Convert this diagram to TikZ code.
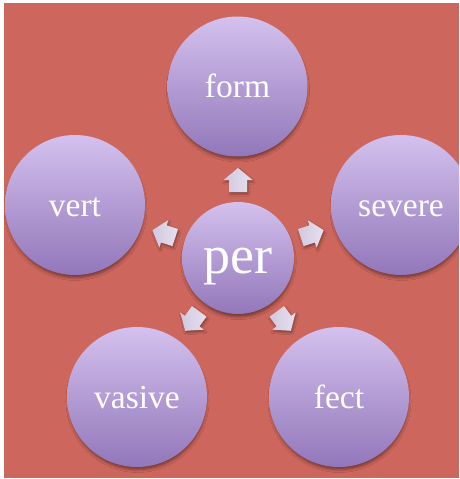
\documentclass[tikz,border=0pt]{standalone}
\usepackage{fontspec}
\setmainfont{Liberation Serif}
\usetikzlibrary{shadows.blur}
\definecolor{bg}{HTML}{CD665C}
\definecolor{ctop}{HTML}{D4C1EE}
\definecolor{cbot}{HTML}{9277BA}
\definecolor{atip}{HTML}{E6E0EF}
\definecolor{abase}{HTML}{D2C8DF}
\tikzset{
  bubble/.style={circle, draw=none, inner sep=0pt, top color=ctop, bottom color=cbot,
    blur shadow={shadow xshift=0.5pt, shadow yshift=-4pt, shadow scale=0.98, shadow blur radius=3pt, shadow opacity=45}},
  outer/.style={bubble, minimum size=140pt},
  inner/.style={bubble, minimum size=112pt},
  word/.style={text=white, inner sep=0pt, anchor=base, font=\fontsize{33.5}{40}\selectfont},
  bigword/.style={text=white, inner sep=0pt, anchor=base, font=\fontsize{54}{60}\selectfont},
  blockarrow/.style={left color=abase, right color=atip, draw=none,
    blur shadow={shadow xshift=1pt, shadow yshift=-2pt, shadow blur radius=2pt, shadow opacity=35}}
}
\begin{document}
\begin{tikzpicture}[x=1pt,y=-1pt]
\useasboundingbox (0,0) rectangle (459,479);
\fill[bg] (4,3) rectangle (459,478);
\begin{scope}
\clip (4,3) rectangle (459,478);
\node[outer] (form) at (237.5,86.5) {};
\node[outer] (vert) at (75,205) {};
\node[outer] (severe) at (401,205) {};
\node[outer] (vasive) at (137,397) {};
\node[outer] (fect) at (339,397) {};
\node[inner] (per) at (238,258) {};
\node[word] (formt) at ([yshift=-11pt]form.center) {form};
\node[word] (vertt) at ([yshift=-11.5pt]vert.center) {vert};
\node[word] (severet) at ([yshift=-11.5pt]severe.center) {severe};
\node[word] (vasivet) at ([yshift=-11.5pt]vasive.center) {vasive};
\node[word] (fectt) at ([yshift=-11.5pt]fect.center) {fect};
\node[bigword] (pert) at ([yshift=-15pt]per.center) {per};
\foreach \a in {90,162,234,306,18}{
  \begin{scope}[shift={(per.center)}, rotate=\a]
    \path[blockarrow] (66pt,-9pt) -- (78pt,-9pt) -- (78pt,-14.5pt) -- (90pt,0pt)
      -- (78pt,14.5pt) -- (78pt,9pt) -- (66pt,9pt) -- cycle;
  \end{scope}
}
\end{scope}
\end{tikzpicture}
\end{document}
